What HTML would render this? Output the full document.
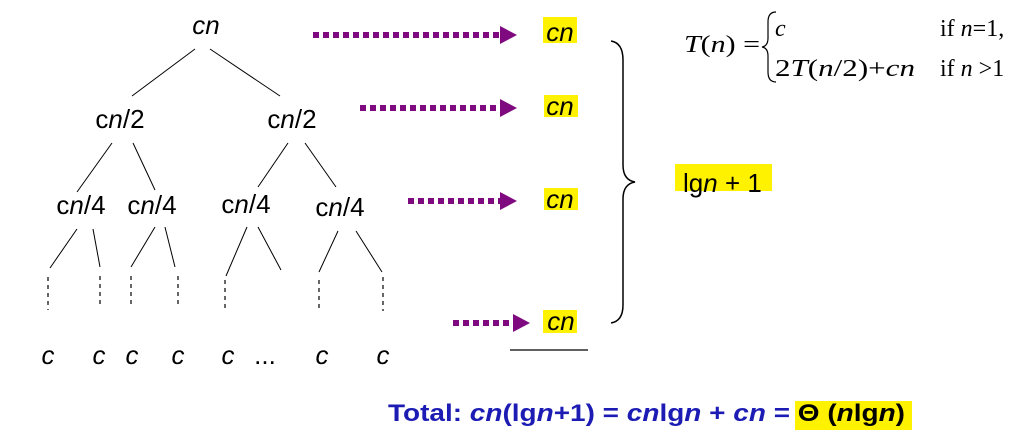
<!DOCTYPE html>
<html><head><meta charset="utf-8"><style>
html,body{margin:0;padding:0;background:#fff;}
svg{display:block;}
.t{font-family:"Liberation Sans",sans-serif;font-size:26px;fill:#000;}
.s{font-family:"Liberation Serif",serif;font-size:24px;fill:#000;}
</style></head><body>
<svg width="1021" height="438" viewBox="0 0 1021 438">
<g stroke="#000" stroke-width="1">
<line x1="195" y1="49" x2="132" y2="96"/><line x1="210" y1="49" x2="280" y2="96"/>
<line x1="112" y1="143" x2="77" y2="192"/><line x1="133" y1="143" x2="155" y2="190"/>
<line x1="288" y1="143" x2="258" y2="187"/><line x1="305" y1="143" x2="336" y2="187"/>
<line x1="77" y1="229" x2="50" y2="268"/><line x1="93" y1="229" x2="100" y2="267"/>
<line x1="155" y1="227" x2="131" y2="267"/><line x1="165" y1="227" x2="175" y2="267"/>
<line x1="247" y1="227" x2="226" y2="276"/><line x1="258" y1="227" x2="281" y2="270"/>
<line x1="338" y1="231" x2="319" y2="272"/><line x1="356" y1="231" x2="382" y2="272"/>
</g>
<g stroke="#000" stroke-width="1.2" stroke-dasharray="4,4">
<line x1="48" y1="277" x2="48" y2="310"/><line x1="100" y1="276" x2="100" y2="308"/>
<line x1="131" y1="276" x2="131" y2="308"/><line x1="178" y1="276" x2="178" y2="308"/>
<line x1="225" y1="280" x2="225" y2="312"/><line x1="319" y1="280" x2="319" y2="312"/>
<line x1="383" y1="277" x2="383" y2="311"/>
</g>
<g class="t" text-anchor="middle">
<text x="206" y="34" font-style="italic">cn</text>
<text x="120" y="128">c<tspan font-style="italic">n</tspan>/2</text>
<text x="292" y="128">c<tspan font-style="italic">n</tspan>/2</text>
<text x="81" y="214">c<tspan font-style="italic">n</tspan>/4</text>
<text x="152" y="214">c<tspan font-style="italic">n</tspan>/4</text>
<text x="246" y="213">c<tspan font-style="italic">n</tspan>/4</text>
<text x="340" y="216">c<tspan font-style="italic">n</tspan>/4</text>
</g>
<g class="t" text-anchor="middle" font-style="italic">
<text x="48" y="364">c</text><text x="99" y="364">c</text><text x="132" y="364">c</text>
<text x="178" y="364">c</text><text x="228" y="364">c</text><text x="265" y="364" font-style="normal">...</text>
<text x="322" y="364">c</text><text x="383" y="364">c</text>
</g>
<g stroke="#7f0a80" stroke-width="6" stroke-dasharray="6,4">
<line x1="313" y1="35" x2="502" y2="35"/>
<line x1="360" y1="108" x2="502" y2="108"/>
<line x1="408" y1="201" x2="502" y2="201"/>
<line x1="453" y1="323" x2="513" y2="323"/>
</g>
<g fill="#7f0a80">
<polygon points="500,26 517,35 500,44"/><polygon points="500,99 517,108 500,117"/>
<polygon points="500,192 517,201 500,210"/><polygon points="513,314 530,323 513,332"/>
</g>
<g fill="#fff200">
<rect x="543" y="17" width="34" height="26"/><rect x="544" y="95" width="34" height="22"/>
<rect x="544" y="188" width="34" height="22"/><rect x="543" y="310" width="34" height="23"/>
<rect x="675" y="164" width="97" height="27"/><rect x="795" y="401" width="117" height="29"/>
</g>
<g class="t" text-anchor="middle" font-style="italic">
<text x="560" y="41">cn</text><text x="560" y="115">cn</text><text x="560" y="208">cn</text><text x="561" y="330">cn</text>
</g>
<line x1="510" y1="350" x2="588" y2="350" stroke="#000" stroke-width="1.2"/>
<path d="M611,41 Q623,43 623,60 L623,165 Q623,180 635,182 Q623,184 623,199 L623,305 Q623,321 611,323" fill="none" stroke="#000" stroke-width="1.5"/>
<text class="t" x="683" y="192">lg<tspan font-style="italic">n</tspan> + 1</text>
<g>
<text class="s" x="684" y="52" textLength="76" lengthAdjust="spacingAndGlyphs"><tspan font-style="italic">T</tspan>(<tspan font-style="italic">n</tspan>) =</text>
<path d="M776,12 Q768,12 768,22 L768,38 Q768,46 762,47 Q768,48 768,56 L768,72 Q768,82 776,82" fill="none" stroke="#000" stroke-width="1.2"/>
<text class="s" x="775" y="36" font-style="italic">c</text>
<text class="s" x="940" y="36">if <tspan font-style="italic">n</tspan>=1,</text>
<text class="s" x="775" y="76" textLength="140" lengthAdjust="spacingAndGlyphs">2<tspan font-style="italic">T</tspan>(<tspan font-style="italic">n</tspan>/2)+<tspan font-style="italic">cn</tspan></text>
<text class="s" x="940" y="76">if <tspan font-style="italic">n</tspan> &gt;1</text>
</g>
<text x="388" y="421" textLength="517" lengthAdjust="spacingAndGlyphs" font-family="Liberation Sans, sans-serif" font-size="24" font-weight="bold" fill="#1c1cb4">Total: <tspan font-style="italic">cn</tspan>(lg<tspan font-style="italic">n</tspan>+1) = <tspan font-style="italic">cn</tspan>lg<tspan font-style="italic">n</tspan> + <tspan font-style="italic">cn</tspan> = <tspan fill="#000">Θ (<tspan font-style="italic">n</tspan>lg<tspan font-style="italic">n</tspan>)</tspan></text>
</svg>
</body></html>
